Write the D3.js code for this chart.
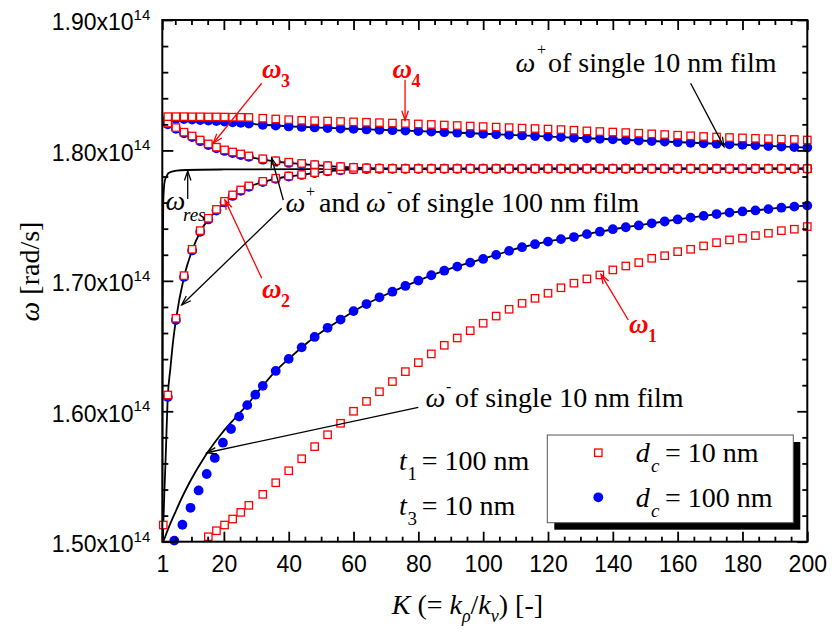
<!DOCTYPE html>
<html>
<head>
<meta charset="utf-8">
<script src="https://cdn.jsdelivr.net/npm/d3@7"></script>
<style>
  html, body { margin: 0; padding: 0; background: #fff; }
  svg { display: block; }
</style>
</head>
<body>
<svg id="chart" width="834" height="629"></svg>
<script>
// ---------- data ----------
// sampling grid in K shared by most branches
const kGrid = [2.7, 5.2, 7.7, 10.2, 12.7, 15.2, 17.7, 20.2, 22.7, 25.2, 27.7,
  32, 36, 40, 44, 48, 52, 56, 60, 64, 68, 72, 76,
  80, 84, 88, 92, 96, 100, 104, 108, 112, 116, 120, 124,
  128, 132, 136, 140, 144, 148, 152, 156, 160, 164, 168, 172,
  176, 180, 184, 188, 192, 196, 200];
const kRedW2 = [1.3].concat(kGrid);
const kRedW1 = kGrid.slice(5);
const kBlueW1 = [4.7, 7.2, 9.7, 12.2, 14.7, 17.2, 19.7, 22.2, 24.7, 27.2, 29.7].concat(kGrid.slice(11));

// d_c = 10 nm (units of 1e14 rad/s)
const red10W1 = [1.5038, 1.5084, 1.5128, 1.5174, 1.5225, 1.5279,
  1.5363, 1.5452, 1.5544, 1.5636, 1.5729, 1.5820, 1.5908, 1.6000, 1.6076, 1.6150, 1.6228, 1.6304,
  1.6373, 1.6440, 1.6506, 1.6562, 1.6618, 1.6675, 1.6730, 1.6782, 1.6828, 1.6866, 1.6905, 1.6947,
  1.6982, 1.7015, 1.7045, 1.7084, 1.7114, 1.7140, 1.7173, 1.7193, 1.7224, 1.7242, 1.7268, 1.7293,
  1.7314, 1.7327, 1.7347, 1.7365, 1.7385, 1.7396, 1.7416];
const red10W2 = [1.5128, 1.6125, 1.6713, 1.7040, 1.7242, 1.7385, 1.7480, 1.7548, 1.7610, 1.7659, 1.7697, 1.7728,
  1.7763, 1.7787, 1.7804, 1.7815, 1.7830, 1.7842, 1.7850, 1.7855, 1.7858, 1.7859, 1.7860, 1.7860,
  1.7860, 1.7860, 1.7860, 1.7860, 1.7860, 1.7860, 1.7860, 1.7860, 1.7860, 1.7860, 1.7860, 1.7860,
  1.7860, 1.7860, 1.7860, 1.7860, 1.7860, 1.7860, 1.7860, 1.7860, 1.7860, 1.7860, 1.7860, 1.7860,
  1.7860, 1.7860, 1.7860, 1.7860, 1.7860, 1.7860, 1.7860];
const red10W3 = [1.8209, 1.8175, 1.8140, 1.8111, 1.8080, 1.8050, 1.8025, 1.8004, 1.7988, 1.7973, 1.7958,
  1.7936, 1.7921, 1.7910, 1.7900, 1.7891, 1.7883, 1.7876, 1.7870, 1.7866, 1.7863, 1.7861, 1.7860,
  1.7860, 1.7860, 1.7860, 1.7860, 1.7860, 1.7860, 1.7860, 1.7860, 1.7860, 1.7860, 1.7860, 1.7860,
  1.7860, 1.7860, 1.7860, 1.7860, 1.7860, 1.7860, 1.7860, 1.7860, 1.7860, 1.7860, 1.7860, 1.7860,
  1.7860, 1.7860, 1.7860, 1.7860, 1.7860, 1.7860, 1.7860];
const red10W4 = [1.8259, 1.8259, 1.8259, 1.8258, 1.8258, 1.8257, 1.8257, 1.8256, 1.8255, 1.8254, 1.8253,
  1.8247, 1.8241, 1.8236, 1.8231, 1.8228, 1.8225, 1.8222, 1.8219, 1.8216, 1.8213, 1.8210, 1.8207,
  1.8203, 1.8199, 1.8195, 1.8191, 1.8187, 1.8183, 1.8179, 1.8175, 1.8171, 1.8168, 1.8164, 1.8160,
  1.8155, 1.8150, 1.8145, 1.8141, 1.8137, 1.8132, 1.8127, 1.8122, 1.8117, 1.8112, 1.8107, 1.8103,
  1.8099, 1.8096, 1.8093, 1.8090, 1.8087, 1.8084, 1.8080];

// d_c = 100 nm
const blue100W1 = [1.5008, 1.5130, 1.5260, 1.5393, 1.5519, 1.5642, 1.5759, 1.5864, 1.5959, 1.6047, 1.6127,
  1.6195, 1.6309, 1.6402, 1.6490, 1.6570, 1.6640, 1.6703, 1.6768, 1.6822, 1.6874, 1.6917, 1.6961,
  1.7002, 1.7043, 1.7078, 1.7109, 1.7140, 1.7168, 1.7199, 1.7230, 1.7258, 1.7281, 1.7301, 1.7320,
  1.7336, 1.7358, 1.7377, 1.7396, 1.7411, 1.7425, 1.7441, 1.7455, 1.7471, 1.7485, 1.7498, 1.7512,
  1.7523, 1.7532, 1.7540, 1.7550, 1.7561, 1.7569, 1.7577];
const blue100W2 = [1.6110, 1.6700, 1.7030, 1.7233, 1.7376, 1.7471, 1.7539, 1.7601, 1.7651, 1.7690, 1.7721,
  1.7757, 1.7782, 1.7800, 1.7812, 1.7827, 1.7840, 1.7848, 1.7854, 1.7857, 1.7859, 1.7860, 1.7860,
  1.7860, 1.7860, 1.7860, 1.7860, 1.7860, 1.7860, 1.7860, 1.7860, 1.7860, 1.7860, 1.7860, 1.7860,
  1.7860, 1.7860, 1.7860, 1.7860, 1.7860, 1.7860, 1.7860, 1.7860, 1.7860, 1.7860, 1.7860, 1.7860,
  1.7860, 1.7860, 1.7860, 1.7860, 1.7860, 1.7860, 1.7860];
const blue100W3 = [1.8200, 1.8166, 1.8131, 1.8102, 1.8071, 1.8041, 1.8016, 1.7996, 1.7980, 1.7965, 1.7951,
  1.7929, 1.7915, 1.7904, 1.7895, 1.7887, 1.7880, 1.7873, 1.7868, 1.7865, 1.7862, 1.7861, 1.7860,
  1.7860, 1.7860, 1.7860, 1.7860, 1.7860, 1.7860, 1.7860, 1.7860, 1.7860, 1.7860, 1.7860, 1.7860,
  1.7860, 1.7860, 1.7860, 1.7860, 1.7860, 1.7860, 1.7860, 1.7860, 1.7860, 1.7860, 1.7860, 1.7860,
  1.7860, 1.7860, 1.7860, 1.7860, 1.7860, 1.7860, 1.7860];
const blue100W4 = [1.8245, 1.8243, 1.8240, 1.8237, 1.8233, 1.8229, 1.8225, 1.8221, 1.8216, 1.8211, 1.8206,
  1.8197, 1.8190, 1.8184, 1.8180, 1.8176, 1.8172, 1.8168, 1.8165, 1.8161, 1.8158, 1.8155, 1.8152,
  1.8148, 1.8144, 1.8140, 1.8136, 1.8132, 1.8128, 1.8124, 1.8119, 1.8115, 1.8110, 1.8106, 1.8102,
  1.8097, 1.8093, 1.8089, 1.8085, 1.8080, 1.8076, 1.8072, 1.8068, 1.8063, 1.8059, 1.8055, 1.8051,
  1.8047, 1.8043, 1.8039, 1.8034, 1.8030, 1.8026, 1.8022];

// single-film reference curves
const kRes = [1.0, 1.1, 1.2, 1.3, 1.5, 1.8, 2.3, 2.85, 4, 5.4, 8.5, 20, 60, 200];
const wRes = [1.490, 1.640, 1.730, 1.760, 1.771, 1.777, 1.780, 1.7825, 1.7838, 1.7845, 1.7850, 1.7854, 1.7858, 1.7860];

const k100Minus = [1.15, 1.3, 1.6, 2.0, 2.7, 3.5, 4.3, 5.2, 7.7, 10.2, 12.7, 15.2, 17.7, 20.2, 22.7, 25.2, 27.7,
  32, 36, 40, 44, 48, 52, 56, 60, 64, 72, 200];
const w100Minus = [1.500, 1.512, 1.535, 1.562, 1.6110, 1.633, 1.653, 1.6700, 1.7030, 1.7233, 1.7376, 1.7471, 1.7539,
  1.7601, 1.7651, 1.7690, 1.7721, 1.7757, 1.7782, 1.7800, 1.7812, 1.7827, 1.7840, 1.7848, 1.7854, 1.7857, 1.7860, 1.7860];

const k100Plus = [1, 2.7, 5.2, 7.7, 10.2, 12.7, 15.2, 17.7, 20.2, 22.7, 25.2, 27.7, 32, 36, 40, 44, 48, 52, 56, 60, 64, 68, 76, 200];
const w100Plus = [1.8225, 1.8200, 1.8166, 1.8131, 1.8102, 1.8071, 1.8041, 1.8016, 1.7996, 1.7980, 1.7965, 1.7951,
  1.7929, 1.7915, 1.7904, 1.7895, 1.7887, 1.7880, 1.7873, 1.7868, 1.7865, 1.7862, 1.7860, 1.7860];

const k10Plus = [1, 10.2, 20.2, 32, 44, 60, 76, 100, 124, 148, 172, 200];
const w10Plus = [1.8247, 1.8237, 1.8221, 1.8197, 1.8180, 1.8165, 1.8152, 1.8128, 1.8102, 1.8076, 1.8051, 1.8022];

const k10Minus = [1.3, 3, 5, 7, 9, 11, 13, 15, 17, 19, 21, 23, 25, 27, 29.7, 32, 36, 40, 48, 56, 64, 72, 80,
  88, 96, 104, 112, 120, 128, 136, 144, 152, 160, 168, 176, 184, 192, 200];
const w10Minus = [1.500, 1.5110, 1.5225, 1.5335, 1.5435, 1.5525, 1.5607, 1.5685, 1.5755, 1.5820, 1.5880, 1.5935,
  1.5990, 1.6043, 1.6127, 1.6195, 1.6309, 1.6402, 1.6570, 1.6703, 1.6822, 1.6917, 1.7002, 1.7078, 1.7140,
  1.7199, 1.7258, 1.7301, 1.7336, 1.7377, 1.7411, 1.7441, 1.7471, 1.7498, 1.7523, 1.7540, 1.7561, 1.7577];

// axis ticks
const xMajorTicks = [1, 20, 40, 60, 80, 100, 120, 140, 160, 180, 200];
const xMinorTicks = [5, 10, 15, 25, 30, 35, 45, 50, 55, 65, 70, 75, 85, 90, 95, 105, 110, 115,
  125, 130, 135, 145, 150, 155, 165, 170, 175, 185, 190, 195];
const yMajorTicks = [1.50, 1.60, 1.70, 1.80, 1.90];
const yMinorTicks = [1.52, 1.54, 1.56, 1.58, 1.62, 1.64, 1.66, 1.68, 1.72, 1.74, 1.76, 1.78,
  1.82, 1.84, 1.86, 1.88];
const yTickLabels = ["1.50", "1.60", "1.70", "1.80", "1.90"];
const yTickExponent = "14";

// ---------- layout ----------
const SERIF = "'Liberation Serif', 'Times New Roman', Times, serif";
const SANS = "'Liberation Sans', Arial, Helvetica, sans-serif";
const RED = "#ff0000", BLUE = "#0000ff";
const FS = 28;           // annotation font size
const L = 162.3, R = 807.3, T = 20, B = 541.7;

const svg = d3.select("#chart");
const x = d3.scaleLinear().domain([1, 200]).range([L, R]);
const y = d3.scaleLinear().domain([1.50, 1.90]).range([B, T]);

svg.append("defs").append("clipPath").attr("id", "plotClip")
  .append("rect").attr("x", L).attr("y", T).attr("width", R - L).attr("height", B - T);

const zip = (ks, ws) => ks.map((k, i) => [k, ws[i]]);

// ---------- curves ----------
const lineGen = d3.line().x(d => x(d[0])).y(d => y(d[1])).curve(d3.curveMonotoneX);
const curves = [zip(kRes, wRes), zip(k100Minus, w100Minus), zip(k100Plus, w100Plus),
                zip(k10Plus, w10Plus), zip(k10Minus, w10Minus)];
svg.append("g").attr("clip-path", "url(#plotClip)")
  .selectAll("path").data(curves).join("path")
  .attr("d", lineGen).attr("fill", "none").attr("stroke", "#000").attr("stroke-width", 1.8);

// ---------- markers ----------
const blueSeries = [zip(kBlueW1, blue100W1), zip(kGrid, blue100W2), zip(kGrid, blue100W3), zip(kGrid, blue100W4)];
const redSeries = [zip(kRedW1, red10W1), zip(kRedW2, red10W2), zip(kGrid, red10W3), zip(kGrid, red10W4)];

const CR = 4.9;
const gBlue = svg.append("g");
blueSeries.forEach(s => {
  gBlue.append("g").selectAll("circle").data(s).join("circle")
    .attr("cx", d => x(d[0])).attr("cy", d => y(d[1])).attr("r", CR).attr("fill", BLUE);
});
const SQ = 7.4;
const gRed = svg.append("g");
redSeries.forEach(s => {
  gRed.append("g").selectAll("rect").data(s).join("rect")
    .attr("x", d => x(d[0]) - SQ / 2).attr("y", d => y(d[1]) - SQ / 2)
    .attr("width", SQ).attr("height", SQ)
    .attr("fill", "#fff").attr("stroke", RED).attr("stroke-width", 1.3);
});

// ---------- axes ----------
function styleAxis(g) {
  g.select(".domain").remove();
  g.selectAll(".tick line").attr("stroke", "#000").attr("stroke-width", 1.8);
}
const axB = svg.append("g").attr("transform", `translate(0,${B})`)
  .call(d3.axisBottom(x).tickValues(xMajorTicks).tickSizeInner(-10).tickSizeOuter(0).tickPadding(14).tickFormat(d => d));
styleAxis(axB);
axB.selectAll(".tick text").attr("font-family", SANS).attr("font-size", 23).attr("fill", "#000");
svg.append("g").attr("transform", `translate(0,${B})`)
  .call(d3.axisBottom(x).tickValues(xMinorTicks).tickSizeInner(-5).tickSizeOuter(0).tickFormat("")).call(styleAxis);
svg.append("g").attr("transform", `translate(0,${T})`)
  .call(d3.axisTop(x).tickValues(xMajorTicks).tickSizeInner(-10).tickSizeOuter(0).tickFormat("")).call(styleAxis);
svg.append("g").attr("transform", `translate(0,${T})`)
  .call(d3.axisTop(x).tickValues(xMinorTicks).tickSizeInner(-5).tickSizeOuter(0).tickFormat("")).call(styleAxis);

const axL = svg.append("g").attr("transform", `translate(${L},0)`)
  .call(d3.axisLeft(y).tickValues(yMajorTicks).tickSizeInner(-11).tickSizeOuter(0).tickPadding(12));
styleAxis(axL);
axL.selectAll(".tick text").each(function (d, i) {
  const t = d3.select(this).text(null)
    .attr("font-family", SANS).attr("font-size", 23).attr("fill", "#000").attr("dy", "0.43em");
  t.append("tspan").text(yTickLabels[i] + "x10");
  t.append("tspan").attr("font-size", 15).attr("dy", -10.5).text(yTickExponent);
});
svg.append("g").attr("transform", `translate(${L},0)`)
  .call(d3.axisLeft(y).tickValues(yMinorTicks).tickSizeInner(-6).tickSizeOuter(0).tickFormat("")).call(styleAxis);
svg.append("g").attr("transform", `translate(${R},0)`)
  .call(d3.axisRight(y).tickValues(yMajorTicks).tickSizeInner(-10).tickSizeOuter(0).tickFormat("")).call(styleAxis);
svg.append("g").attr("transform", `translate(${R},0)`)
  .call(d3.axisRight(y).tickValues(yMinorTicks).tickSizeInner(-5).tickSizeOuter(0).tickFormat("")).call(styleAxis);

svg.append("rect").attr("x", L).attr("y", T).attr("width", R - L).attr("height", B - T)
  .attr("fill", "none").attr("stroke", "#000").attr("stroke-width", 2);

// axis titles
const xt = svg.append("text").attr("x", 391.7).attr("y", 614)
  .attr("font-family", SERIF).attr("font-size", FS).attr("fill", "#000");
xt.append("tspan").attr("font-style", "italic").text("K");
xt.append("tspan").text(" (= ");
xt.append("tspan").attr("font-style", "italic").text("k");
xt.append("tspan").attr("font-style", "italic").attr("font-size", 18).attr("dy", 8).text("ρ");
xt.append("tspan").attr("dy", -8).text("/");
xt.append("tspan").attr("font-style", "italic").text("k");
xt.append("tspan").attr("font-style", "italic").attr("font-size", 18).attr("dy", 8).text("ν");
xt.append("tspan").attr("dy", -8).text(") [-]");

const yt = svg.append("text").attr("transform", "translate(38.5,271.5) rotate(-90)")
  .attr("text-anchor", "middle").attr("font-family", SERIF).attr("font-size", FS).attr("fill", "#000");
yt.append("tspan").attr("font-style", "italic").text("ω");
yt.append("tspan").text(" [rad/s]");

// ---------- annotations ----------
const ann = svg.append("g");
function arrow(k1, w1, k2, w2, color, width) {
  const x1 = x(k1), y1 = y(w1), x2 = x(k2), y2 = y(w2);
  const a = Math.atan2(y2 - y1, x2 - x1), len = 10, sp = 0.33;
  ann.append("line").attr("x1", x1).attr("y1", y1).attr("x2", x2).attr("y2", y2)
    .attr("stroke", color).attr("stroke-width", width);
  const p1 = [x2 - len * Math.cos(a - sp), y2 - len * Math.sin(a - sp)];
  const p2 = [x2 - len * Math.cos(a + sp), y2 - len * Math.sin(a + sp)];
  ann.append("path").attr("d", `M${p1[0]},${p1[1]}L${x2},${y2}L${p2[0]},${p2[1]}`)
    .attr("fill", "none").attr("stroke", color).attr("stroke-width", width);
}
function txt(px, py, s, opts = {}) {
  return ann.append("text").attr("x", px).attr("y", py).text(s)
    .attr("font-family", SERIF).attr("font-size", opts.size || FS)
    .attr("font-style", opts.italic ? "italic" : "normal")
    .attr("font-weight", opts.bold ? "bold" : "normal")
    .attr("fill", opts.color || "#000");
}

// red branch labels
arrow(31.67, 1.8515, 16.73, 1.8055, RED, 1.3);
txt(262, 78.3, "ω", { italic: true, bold: true, size: 27, color: RED });
txt(281, 87, "3", { bold: true, size: 18, color: RED });
arrow(75.9, 1.8541, 75.9, 1.8232, RED, 1.3);
txt(392.5, 78.3, "ω", { italic: true, bold: true, size: 27, color: RED });
txt(411.5, 87, "4", { bold: true, size: 18, color: RED });
arrow(31.67, 1.7020, 20.34, 1.7620, RED, 1.3);
txt(262, 298.3, "ω", { italic: true, bold: true, size: 27, color: RED });
txt(281, 307, "2", { bold: true, size: 18, color: RED });
arrow(144.77, 1.6700, 136.35, 1.7049, RED, 1.3);
txt(629, 333.3, "ω", { italic: true, bold: true, size: 27, color: RED });
txt(648, 342, "1", { bold: true, size: 18, color: RED });

// single-film labels
txt(515.5, 71.7, "ω", { italic: true });
txt(537, 55, "+", { size: 16 });
txt(548, 71.7, "of single 10 nm film");
arrow(164.0, 1.8515, 174.3, 1.8029, "#000", 1.3);

txt(285.5, 211.7, "ω", { italic: true });
txt(306, 197, "+", { size: 16 });
txt(319, 211.7, "and");
txt(366, 211.7, "ω", { italic: true });
txt(387, 197, "-", { size: 16 });
txt(396.7, 211.7, "of single 100 nm film");
arrow(38.33, 1.7620, 34.75, 1.7940, "#000", 1.3);
arrow(37.84, 1.7556, 6.99, 1.6815, "#000", 1.3);

txt(425.5, 406.7, "ω", { italic: true });
txt(446, 391.5, "-", { size: 16 });
txt(455, 406.7, "of single 10 nm film");
arrow(79.98, 1.6030, 14.70, 1.5682, "#000", 1.3);

txt(165.5, 210, "ω", { italic: true });
txt(183, 221, "res", { italic: true, size: 19 });
arrow(8.84, 1.7628, 8.84, 1.7842, "#000", 1.3);

// film thicknesses
txt(399, 470, "t", { italic: true });
txt(407.5, 480, "1", { size: 19 });
txt(421.7, 470, "= 100 nm");
txt(399, 515, "t", { italic: true });
txt(407.5, 525, "3", { size: 19 });
txt(421.7, 515, "= 10 nm");

// ---------- legend ----------
const lg = svg.append("g");
lg.append("rect").attr("x", 554.3).attr("y", 442).attr("width", 246).attr("height", 87.7).attr("fill", "#000");
lg.append("rect").attr("x", 547.3).attr("y", 435).attr("width", 246).attr("height", 87.7)
  .attr("fill", "#fff").attr("stroke", "#555").attr("stroke-width", 1);
lg.append("rect").attr("x", 598.3 - SQ / 2).attr("y", 452.7 - SQ / 2).attr("width", SQ).attr("height", SQ)
  .attr("fill", "#fff").attr("stroke", RED).attr("stroke-width", 1.3);
lg.append("circle").attr("cx", 598.3).attr("cy", 497.3).attr("r", CR).attr("fill", BLUE);
[["= 10 nm", 461.7], ["= 100 nm", 506.7]].forEach(([s, by]) => {
  lg.append("text").attr("x", 635.7).attr("y", by).attr("font-family", SERIF).attr("font-size", FS)
    .attr("font-style", "italic").text("d");
  lg.append("text").attr("x", 651).attr("y", by + 10).attr("font-family", SERIF).attr("font-size", 19)
    .attr("font-style", "italic").text("c");
  lg.append("text").attr("x", 665).attr("y", by).attr("font-family", SERIF).attr("font-size", FS).text(s);
});
</script>
</body>
</html>
